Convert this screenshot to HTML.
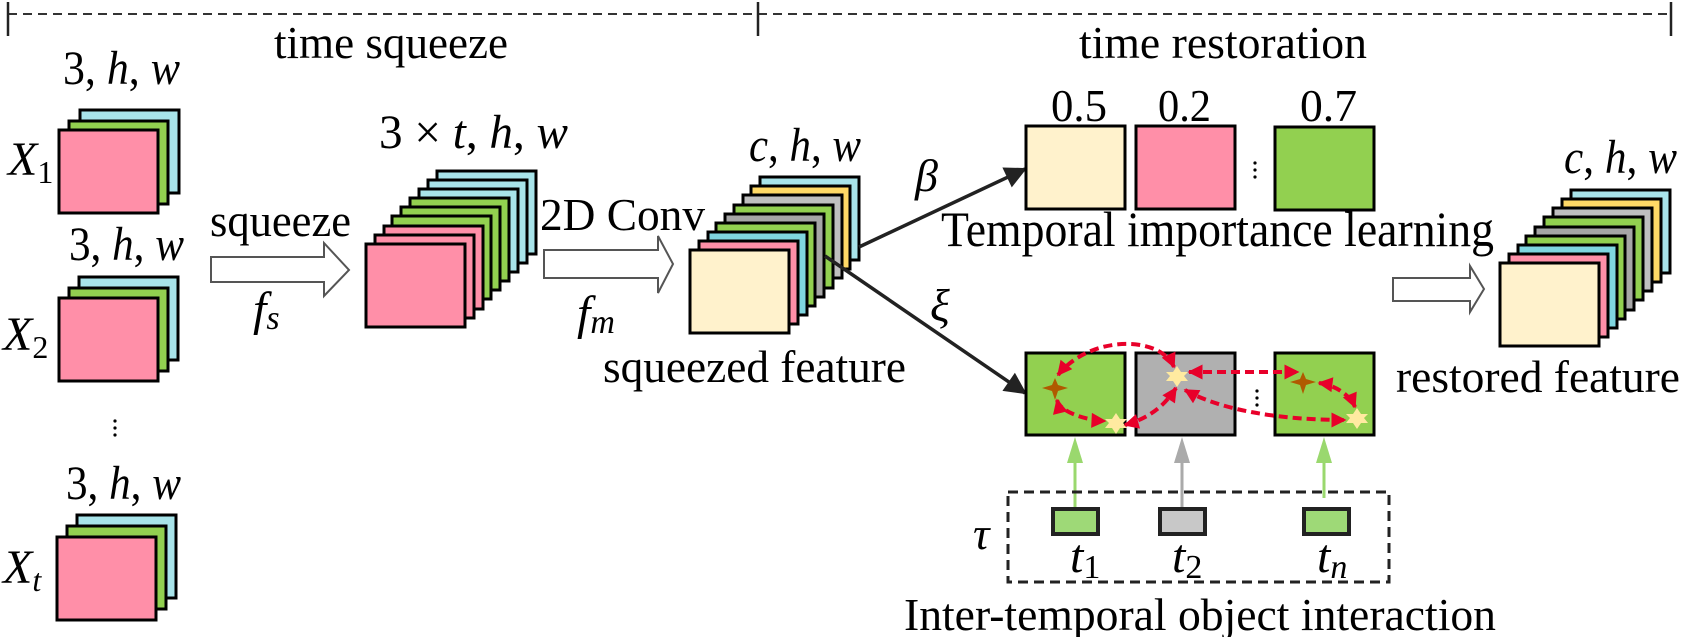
<!DOCTYPE html>
<html><head><meta charset="utf-8"><style>
html,body{margin:0;padding:0;background:#fff;}
svg{display:block;}
text{font-family:"Liberation Serif","DejaVu Serif","Times New Roman",serif;fill:#000;}
.m{font-style:italic;}
</style></head><body>
<svg width="1684" height="637" viewBox="0 0 1684 637" xmlns="http://www.w3.org/2000/svg" font-family="Liberation Serif, DejaVu Serif, serif">
<defs>
<marker id="ah" viewBox="0 0 10 10" refX="9" refY="5" markerWidth="26" markerHeight="22" orient="auto" markerUnits="userSpaceOnUse"><path d="M0,0 L10,5 L0,10 z" fill="#222"/></marker>
<marker id="rh" viewBox="0 0 10 10" refX="9" refY="5" markerWidth="17" markerHeight="15" orient="auto-start-reverse" markerUnits="userSpaceOnUse"><path d="M0,0 L10,5 L0,10 z" fill="#e8002a"/></marker>
</defs>
<!-- top dashed line -->
<line x1="8" y1="14" x2="1671" y2="14" stroke="#333" stroke-width="2" stroke-dasharray="9,6"/>
<line x1="8" y1="2" x2="8" y2="36" stroke="#222" stroke-width="2.5"/>
<line x1="758" y1="2" x2="758" y2="36" stroke="#222" stroke-width="2.5"/>
<line x1="1671" y1="2" x2="1671" y2="36" stroke="#222" stroke-width="2.5"/>
<text x="274" y="58" font-size="46" textLength="234" lengthAdjust="spacingAndGlyphs">time squeeze</text>
<text x="1079" y="58" font-size="46" textLength="288" lengthAdjust="spacingAndGlyphs">time restoration</text>

<g stroke="#000" stroke-width="3">
<rect x="80" y="110" width="99" height="83" fill="#a8e4ea"/>
<rect x="69" y="121" width="99" height="83" fill="#92d050"/>
<rect x="59" y="130" width="99" height="83" fill="#ff8fa8"/>
<rect x="79" y="277" width="99" height="83" fill="#a8e4ea"/>
<rect x="69" y="288" width="99" height="83" fill="#92d050"/>
<rect x="59" y="298" width="99" height="83" fill="#ff8fa8"/>
<rect x="77" y="515" width="99" height="83" fill="#a8e4ea"/>
<rect x="67" y="526" width="99" height="83" fill="#92d050"/>
<rect x="57" y="537" width="99" height="83" fill="#ff8fa8"/>
</g>
<text x="63" y="84" font-size="48" textLength="117" lengthAdjust="spacingAndGlyphs">3, <tspan class="m">h</tspan>, <tspan class="m">w</tspan></text>
<text x="69" y="260" font-size="48" textLength="115" lengthAdjust="spacingAndGlyphs">3, <tspan class="m">h</tspan>, <tspan class="m">w</tspan></text>
<text x="66" y="499" font-size="48" textLength="115" lengthAdjust="spacingAndGlyphs">3, <tspan class="m">h</tspan>, <tspan class="m">w</tspan></text>
<text x="8" y="175" font-size="48" class="m">X<tspan font-size="32" font-style="normal" dy="8">1</tspan></text>
<text x="3" y="350" font-size="48" class="m">X<tspan font-size="32" font-style="normal" dy="8">2</tspan></text>
<text x="3" y="583" font-size="48" class="m">X<tspan font-size="32" dy="8">t</tspan></text>
<g fill="#000"><circle cx="115" cy="421" r="1.6"/><circle cx="115" cy="428" r="1.6"/><circle cx="115" cy="435" r="1.6"/></g>

<path d="M211,257 L324,257 L324,243 L349,270 L324,296 L324,282 L211,282 z" fill="#fff" stroke="#555" stroke-width="2"/>
<text x="210" y="236" font-size="46" textLength="141" lengthAdjust="spacingAndGlyphs">squeeze</text>
<text x="253" y="325" font-size="48" class="m">f<tspan font-size="34" dy="4">s</tspan></text>

<g stroke="#000" stroke-width="3">
<rect x="437" y="171" width="99" height="83" fill="#a8e4ea"/>
<rect x="428" y="180" width="99" height="83" fill="#a8e4ea"/>
<rect x="419" y="189" width="99" height="83" fill="#a8e4ea"/>
<rect x="410" y="198" width="99" height="83" fill="#92d050"/>
<rect x="401" y="207" width="99" height="83" fill="#92d050"/>
<rect x="392" y="216" width="99" height="83" fill="#92d050"/>
<rect x="384" y="226" width="99" height="83" fill="#ff8fa8"/>
<rect x="375" y="235" width="99" height="83" fill="#ff8fa8"/>
<rect x="366" y="244" width="99" height="83" fill="#ff8fa8"/>
</g>
<text x="379" y="148" font-size="48" textLength="189" lengthAdjust="spacingAndGlyphs">3 × <tspan class="m">t</tspan>, <tspan class="m">h</tspan>, <tspan class="m">w</tspan></text>

<path d="M544,250 L658,250 L658,236 L673,264 L658,293 L658,278 L544,278 z" fill="#fff" stroke="#555" stroke-width="2"/>
<text x="540" y="230" font-size="46" textLength="165" lengthAdjust="spacingAndGlyphs">2D Conv</text>
<text x="577" y="329" font-size="48" class="m">f<tspan font-size="34" dy="4">m</tspan></text>

<g stroke="#000" stroke-width="3">
<rect x="760" y="177" width="99" height="83" fill="#a8e4ea"/>
<rect x="751" y="186" width="99" height="83" fill="#ffd966"/>
<rect x="743" y="195" width="99" height="83" fill="#bfbfbf"/>
<rect x="734" y="205" width="99" height="83" fill="#92d050"/>
<rect x="725" y="214" width="99" height="83" fill="#a6a6a6"/>
<rect x="716" y="223" width="99" height="83" fill="#92d050"/>
<rect x="708" y="232" width="99" height="83" fill="#7fd6e0"/>
<rect x="699" y="241" width="99" height="83" fill="#ff8fa8"/>
<rect x="690" y="250" width="99" height="83" fill="#fff2cc"/>
</g>
<text x="749" y="161" font-size="48" textLength="112" lengthAdjust="spacingAndGlyphs"><tspan class="m">c</tspan>, <tspan class="m">h</tspan>, <tspan class="m">w</tspan></text>
<text x="603" y="382" font-size="46" textLength="303" lengthAdjust="spacingAndGlyphs">squeezed feature</text>

<line x1="859" y1="247" x2="1025" y2="169" stroke="#222" stroke-width="3.5" marker-end="url(#ah)"/>
<line x1="825" y1="256" x2="1025" y2="393" stroke="#222" stroke-width="3.5" marker-end="url(#ah)"/>
<text x="915" y="191" font-size="46" class="m">β</text>
<text x="930" y="321" font-size="46" class="m">ξ</text>

<g stroke="#000" stroke-width="3">
<rect x="1026" y="126" width="99" height="83" fill="#fff2cc"/>
<rect x="1136" y="126" width="99" height="83" fill="#ff8fa8"/>
<rect x="1275" y="127" width="99" height="83" fill="#92d050"/>
</g>
<text x="1051" y="121" font-size="46" textLength="56" lengthAdjust="spacingAndGlyphs">0.5</text>
<text x="1158" y="121" font-size="46" textLength="53" lengthAdjust="spacingAndGlyphs">0.2</text>
<text x="1300" y="121" font-size="46" textLength="57" lengthAdjust="spacingAndGlyphs">0.7</text>
<g fill="#000"><circle cx="1255" cy="163" r="1.6"/><circle cx="1255" cy="170" r="1.6"/><circle cx="1255" cy="177" r="1.6"/></g>
<text x="941" y="246" font-size="50" textLength="553" lengthAdjust="spacingAndGlyphs">Temporal importance learning</text>

<path d="M1393,278 L1470,278 L1470,266 L1484,289 L1470,312 L1470,301 L1393,301 z" fill="#fff" stroke="#555" stroke-width="2"/>

<g stroke="#000" stroke-width="3">
<rect x="1571" y="190" width="99" height="83" fill="#a8e4ea"/>
<rect x="1562" y="199" width="99" height="83" fill="#ffd966"/>
<rect x="1553" y="208" width="99" height="83" fill="#bfbfbf"/>
<rect x="1544" y="217" width="99" height="83" fill="#92d050"/>
<rect x="1535" y="227" width="99" height="83" fill="#a6a6a6"/>
<rect x="1526" y="236" width="99" height="83" fill="#92d050"/>
<rect x="1518" y="245" width="99" height="83" fill="#7fd6e0"/>
<rect x="1509" y="254" width="99" height="83" fill="#ff8fa8"/>
<rect x="1500" y="263" width="99" height="83" fill="#fff2cc"/>
</g>
<text x="1564" y="173" font-size="48" textLength="113" lengthAdjust="spacingAndGlyphs"><tspan class="m">c</tspan>, <tspan class="m">h</tspan>, <tspan class="m">w</tspan></text>
<text x="1396" y="392" font-size="46" textLength="284" lengthAdjust="spacingAndGlyphs">restored feature</text>

<g stroke="#000" stroke-width="3">
<rect x="1026" y="353" width="99" height="82" fill="#92d050"/>
<rect x="1136" y="353" width="99" height="82" fill="#b0b0b0"/>
<rect x="1275" y="353" width="99" height="82" fill="#92d050"/>
</g>
<g fill="#000"><circle cx="1257" cy="391" r="1.6"/><circle cx="1257" cy="398" r="1.6"/><circle cx="1257" cy="405" r="1.6"/></g>

<path d="M1055,378 L1058,385 L1068,388 L1058,391 L1055,400 L1052,391 L1042,388 L1052,385 z" fill="#b05a00"/>
<path d="M1303,372 L1306,379 L1316,382 L1306,385 L1303,394 L1300,385 L1290,382 L1300,379 z" fill="#b05a00"/>
<g fill="#ffeaa0">
<polygon points="1116,413 1120,419 1127,419 1123,423 1127,428 1120,428 1116,434 1112,428 1105,428 1109,423 1105,419 1112,419"/>
<polygon points="1177,366 1181,372 1188,372 1184,376 1188,381 1181,381 1177,387 1173,381 1166,381 1170,376 1166,372 1173,372"/>
<polygon points="1357,408 1361,414 1368,414 1364,418 1368,423 1361,423 1357,429 1353,423 1346,423 1350,418 1346,414 1353,414"/>
</g>

<g fill="none" stroke="#e8002a" stroke-width="4" stroke-dasharray="9,5">
<path d="M1174,367 C1160,335 1090,335 1058,375" marker-start="url(#rh)" marker-end="url(#rh)"/>
<path d="M1057,400 C1060,412 1085,420 1105,421" marker-start="url(#rh)" marker-end="url(#rh)"/>
<path d="M1125,425 C1150,418 1165,405 1176,388" marker-start="url(#rh)" marker-end="url(#rh)"/>
<path d="M1189,372 L1298,372" marker-start="url(#rh)" marker-end="url(#rh)"/>
<path d="M1319,383 C1335,385 1350,395 1355,407" marker-start="url(#rh)" marker-end="url(#rh)"/>
<path d="M1185,390 C1220,410 1280,420 1345,420" marker-start="url(#rh)" marker-end="url(#rh)"/>
</g>

<line x1="1075" y1="508" x2="1075" y2="462" stroke="#9ad86e" stroke-width="3"/>
<polygon points="1075,437 1067,463 1083,463" fill="#9ad86e"/>
<line x1="1182" y1="508" x2="1182" y2="462" stroke="#aaaaaa" stroke-width="3"/>
<polygon points="1182,437 1174,463 1190,463" fill="#aaaaaa"/>
<line x1="1324" y1="498" x2="1324" y2="462" stroke="#9ad86e" stroke-width="3"/>
<polygon points="1324,437 1316,463 1332,463" fill="#9ad86e"/>

<rect x="1008" y="492" width="381" height="90" fill="none" stroke="#222" stroke-width="3" stroke-dasharray="10,6"/>
<g stroke="#222" stroke-width="4">
<rect x="1053" y="509" width="45" height="25" fill="#9ed977"/>
<rect x="1160" y="509" width="45" height="25" fill="#c8c8c8"/>
<rect x="1304" y="509" width="45" height="25" fill="#9ed977"/>
</g>
<text x="973" y="549" font-size="46" class="m">τ</text>
<text x="1070" y="572" font-size="48" class="m">t<tspan font-size="34" font-style="normal" dy="6">1</tspan></text>
<text x="1172" y="572" font-size="48" class="m">t<tspan font-size="34" font-style="normal" dy="6">2</tspan></text>
<text x="1317" y="572" font-size="48" class="m">t<tspan font-size="34" dy="6">n</tspan></text>
<text x="904" y="630" font-size="46" textLength="592" lengthAdjust="spacingAndGlyphs">Inter-temporal object interaction</text>
</svg>
</body></html>
